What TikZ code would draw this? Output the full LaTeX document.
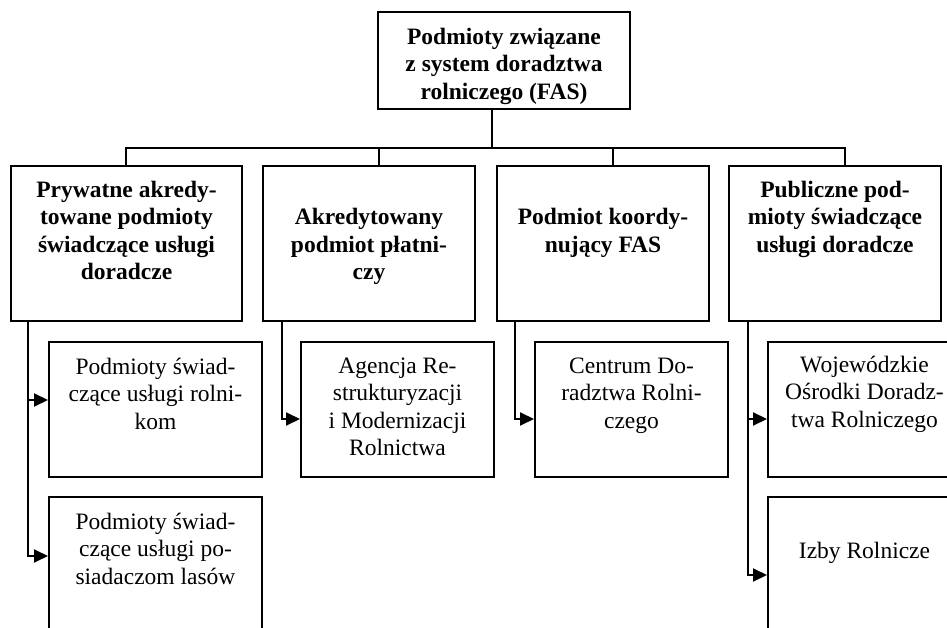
\documentclass[tikz,border=0pt]{standalone}
\usepackage{fontspec}
\setmainfont{Liberation Serif}
\usepackage{tikz}
\usetikzlibrary{arrows.meta,positioning}

\begin{document}
\begin{tikzpicture}[->,>={Triangle[length=7pt,width=6.5pt]},line width=1pt]
		\tikzstyle{box}=[draw,rectangle,inner sep=0pt,minimum width=106pt]
		\tikzstyle{txt}=[draw=none,inner sep=0pt,align=center,font=\fontsize{11.75}{13.7}\selectfont,execute at begin node=\strut]
		\tikzstyle{head}=[txt,font=\fontsize{11.75}{13.7}\selectfont\bfseries]
		
		\path[use as bounding box,clip] (0,0) rectangle (473.5pt,313.5pt);
		
		% boxes
		\node[box] (top) at (252pt,283.25pt) [minimum width=126pt, minimum height=48.5pt] {};
		\node[box] (p1) at (63.25pt,191.75pt) [minimum width=115.5pt, minimum height=77.5pt] {};
		\node[box] (p2) [right=9.5pt of p1, minimum height=77.5pt] {};
		\node[box] (p3) [right=10pt of p2, minimum height=77.5pt]  {};
		\node[box] (p4) [right=9pt of p3, minimum height=77.5pt]   {};
		
		\node[box] (c1a) [below right=9.5pt and 19pt of p1.south west, minimum width=106.5pt, minimum height=67.5pt] {};
		\node[box] (c1b) [below=9pt of c1a, minimum width=106.5pt, minimum height=82pt] {};
		\node[box] (c2)  [below right=9.5pt and 19pt of p2.south west, minimum width=96.5pt, minimum height=67.5pt] {};
		\node[box] (c3)  [below right=9.5pt and 19pt of p3.south west, minimum width=96.5pt, minimum height=67.5pt] {};
		\node[box] (c4a) [below right=9.5pt and 19.5pt of p4.south west, minimum width=96.5pt, minimum height=67.5pt] {};
		\node[box] (c4b) [below=9pt of c4a, minimum width=96.5pt, minimum height=82pt] {};
		
		% texts
		\node[head] (topT) [below=8pt of top.north] {Podmioty związane\\z system doradztwa\\rolniczego (FAS)};
		\node[head] (p1T) [below=7.5pt of p1.north] {Prywatne akredy-\\towane podmioty\\świadczące usługi\\doradcze};
		\node[head] (p2T) [below=21.2pt of p2.north] {Akredytowany\\podmiot płatni-\\czy};
		\node[head] (p3T) [below=21.2pt of p3.north] {Podmiot koordy-\\nujący FAS};
		\node[head] (p4T) [below=7.5pt of p4.north] {Publiczne pod-\\mioty świadczące\\usługi doradcze};
		\node[txt] (c1aT) [below=8pt of c1a.north] {Podmioty świad-\\czące usługi rolni-\\kom};
		\node[txt] (c1bT) [below=8pt of c1b.north] {Podmioty świad-\\czące usługi po-\\siadaczom lasów};
		\node[txt] (c2T)  [below=8pt of c2.north]  {Agencja Re-\\strukturyzacji\\i Modernizacji\\Rolnictwa};
		\node[txt] (c3T)  [below=8pt of c3.north]  {Centrum Do-\\radztwa Rolni-\\czego};
		\node[txt] (c4aT) [below=7pt of c4a.north] {Wojewódzkie\\Ośrodki Doradz-\\twa Rolniczego};
		\node[txt] (c4bT) [below=21.2pt of c4b.north] {Izby Rolnicze};
		
		% connectors
		\coordinate (bus) at ([xshift=-6pt,yshift=-19pt]top.south);
		\draw[-] ([xshift=-6pt]top.south) -- (bus);
		\draw[-] (bus) -| ([xshift=-0.5pt]p1.north);
		\draw[-] (bus) -| ([xshift=5pt]p2.north);
		\draw[-] (bus) -| ([xshift=5pt]p3.north);
		\draw[-] (bus) -| ([xshift=5pt]p4.north);
		
		\draw ([xshift=9pt]p1.south west)  |- ([yshift=4.75pt]c1a.west);
		\draw ([xshift=9pt]p1.south west)  |- ([yshift=-30pt]c1b.north west);
		\draw ([xshift=10pt]p2.south west) |- ([yshift=-4.75pt]c2.west);
		\draw ([xshift=9.5pt]p3.south west) |- ([yshift=-4.75pt]c3.west);
		\draw ([xshift=10pt]p4.south west) |- ([yshift=-4.75pt]c4a.west);
		\draw ([xshift=10pt]p4.south west) |- ([yshift=-39.5pt]c4b.north west);
		
\end{tikzpicture}
\end{document}
